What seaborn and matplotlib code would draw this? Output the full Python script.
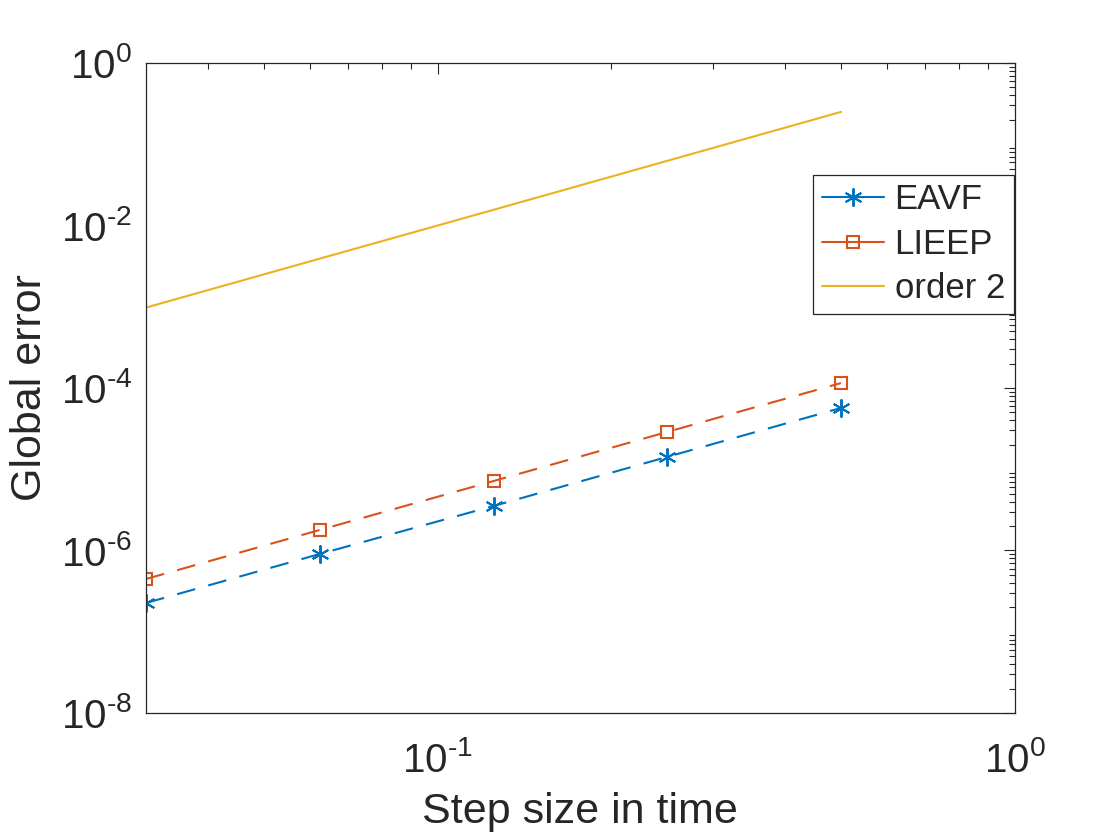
import numpy as np
import pandas as pd
import matplotlib
matplotlib.use('Agg')
import matplotlib.pyplot as plt
import seaborn as sns
from matplotlib.ticker import LogLocator, NullFormatter

# step sizes and global errors
h = [1/32, 1/16, 1/8, 1/4, 1/2]
err_eavf = [2.26e-7, 9.06e-7, 3.53e-6, 1.42e-5, 5.68e-5]
err_lieep = [4.46e-7, 1.79e-6, 7.16e-6, 2.88e-5, 1.15e-4]
ref_order2 = [9.77e-4, 3.91e-3, 1.56e-2, 6.25e-2, 2.5e-1]

ytick_vals = [1e-8, 1e-6, 1e-4, 1e-2, 1e0]
ytick_labels = [r'$10^{\text{-8}}$', r'$10^{\text{-6}}$', r'$10^{\text{-4}}$', r'$10^{\text{-2}}$', r'$10^{0}$']
xtick_vals = [1e-1, 1e0]
xtick_labels = [r'$10^{\text{-1}}$', r'$10^{0}$']

sns.set_style('white')
plt.rcParams['font.family'] = ['Liberation Sans', 'DejaVu Sans']
plt.rcParams['mathtext.fontset'] = 'custom'
plt.rcParams['mathtext.rm'] = 'Liberation Sans'
plt.rcParams['mathtext.it'] = 'Liberation Sans'

df = pd.DataFrame({'h': h, 'EAVF': err_eavf, 'LIEEP': err_lieep, 'order 2': ref_order2})

fig = plt.figure(figsize=(11.2, 8.4), dpi=100)
ax = fig.add_axes([0.1304, 0.1512, 0.7756, 0.7738])

c_blue, c_red, c_yel = '#0072BD', '#D95319', '#EDB120'
lw = 1.5

# MATLAB-like asterisk marker
sns.lineplot(data=df, x='h', y='EAVF', ax=ax, color=c_blue, marker=(6, 2, 0), markersize=13,
             markeredgewidth=1.4, markeredgecolor=c_blue, linewidth=lw, label='EAVF')
ax.lines[-1].set_linestyle((0, (9, 6.5)))
sns.lineplot(data=df, x='h', y='LIEEP', ax=ax, color=c_red, marker='s', markersize=8,
             markerfacecolor='none', markeredgecolor=c_red, markeredgewidth=1.5,
             linewidth=lw, label='LIEEP')
ax.lines[-1].set_linestyle((0, (9, 6.5)))
sns.lineplot(data=df, x='h', y='order 2', ax=ax, color=c_yel, linewidth=lw, label='order 2')

ax.set_xscale('log')
ax.set_yscale('log')
ax.set_xlim(1/32, 1)
ax.set_ylim(1e-8, 1)
ax.set_yticks(ytick_vals)
ax.set_yticklabels(ytick_labels)
ax.set_xticks(xtick_vals)
ax.set_xticklabels(xtick_labels)
ax.yaxis.set_minor_locator(LogLocator(base=10, subs=np.arange(2, 10), numticks=20))
ax.xaxis.set_minor_locator(LogLocator(base=10, subs=np.arange(2, 10), numticks=20))
ax.yaxis.set_minor_formatter(NullFormatter())
ax.xaxis.set_minor_formatter(NullFormatter())

ax.tick_params(which='both', direction='in', top=True, right=True, labelsize=29,
               color='#262626', labelcolor='#262626')
ax.tick_params(which='major', length=8, width=0.8)
ax.tick_params(which='minor', length=4, width=0.8)
ax.tick_params(axis='y', which='major', pad=10)
ax.tick_params(axis='x', which='major', pad=20)
for s in ax.spines.values():
    s.set_color('#262626')
    s.set_linewidth(0.9)

ax.set_xlabel('Step size in time', fontsize=31, color='#262626', labelpad=9)
ax.set_ylabel('Global error', fontsize=31, color='#262626', labelpad=8)

leg = ax.legend(loc='upper right', bbox_to_anchor=(0.9988, 0.828), borderaxespad=0,
                fontsize=25, frameon=True, fancybox=False, framealpha=1, edgecolor='#262626',
                borderpad=0.25, handlelength=1.8, labelspacing=0.33, handletextpad=0.3)
leg.get_frame().set_linewidth(0.9)
for line in leg.get_lines()[:2]:
    line.set_linestyle('-')

fig.savefig('out.png', dpi=100)
